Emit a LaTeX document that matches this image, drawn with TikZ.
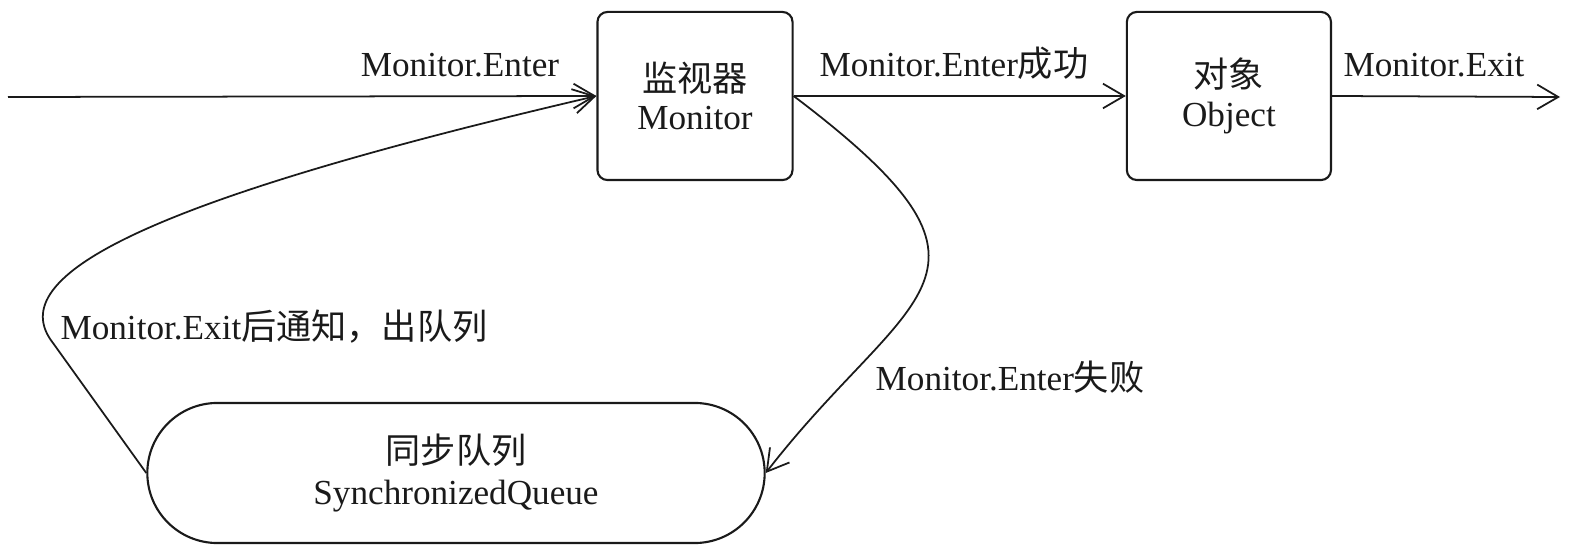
\documentclass[tikz,border=0pt]{standalone}
\usepackage{fontspec}
\setmainfont{Liberation Serif}
\newfontfamily\cjk{Noto Sans CJK SC}
\newcommand{\zh}[1]{{\cjk #1}}
\usepackage{xcolor}
\usetikzlibrary{arrows.meta,positioning}
\definecolor{qink}{HTML}{1A1A1A}
\tikzset{
  block/.style={rectangle,rounded corners=0.1cm,draw=qink,line width=0.6pt,
                minimum height=1.68cm,align=center,
                font=\fontsize{10}{11}\selectfont,text=qink},
  queuebox/.style={rectangle,rounded corners=0.7cm,draw=qink,line width=0.6pt,
                minimum width=6.17cm,minimum height=1.4cm,align=center,
                font=\fontsize{10}{11.5}\selectfont,text=qink},
  lbl/.style={font=\fontsize{10}{12}\selectfont,text=qink,inner sep=0pt,anchor=base},
  flow/.style={-{Straight Barb[length=6pt,width=7pt]},line width=0.5pt,draw=qink},
}
\begin{document}
\begin{tikzpicture}[x=0.01cm,y=-0.01cm]
\useasboundingbox (0,0) rectangle (1569,546);
% boxes
\node[block,minimum width=1.95cm] (mon) at (695,96) {\zh{监视器}\\Monitor};
\node[block,minimum width=2.04cm,right=3.32cm of mon] (obj) {\zh{对象}\\Object};
\node[queuebox] (syncq) at (456,473) {\zh{同步队列}\\SynchronizedQueue};
% free ends
\coordinate (src) at (8,97);
\coordinate (sink) at (1560,97);
\coordinate (bend) at (53,343);
% connectors
\draw[flow] (src) -- (mon.west);
\draw[flow] (mon.east) -- (obj.west);
\draw[flow] (obj.east) -- (sink);
\draw[flow] (mon.east) .. controls (1033,277) and (909,288) .. (syncq.east);
\draw[flow] (syncq.west) -- (bend) .. controls (0,275) and (150,200) .. (mon.west);
% labels
\node[lbl] (lenter) at (460,77) {Monitor.Enter};
\node[lbl] (lok) at (954,77) {Monitor.Enter\zh{成功}};
\node[lbl] (lexit) at (1434,77) {Monitor.Exit};
\node[lbl] (lnotify) at (274,340) {Monitor.Exit\zh{后通知，出队列}};
\node[lbl] (lfail) at (1010,391) {Monitor.Enter\zh{失败}};
\end{tikzpicture}
\end{document}
